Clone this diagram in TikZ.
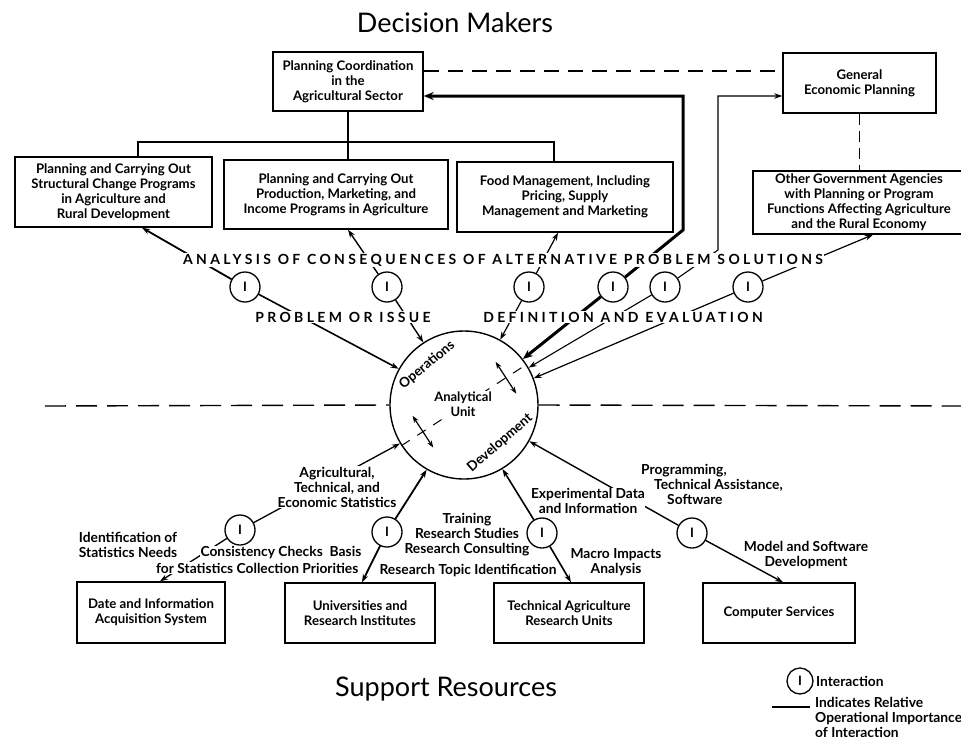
\documentclass[tikz,border=0pt]{standalone}
\usepackage{fontspec}
\setmainfont{Lato}
\newfontfamily\capsfont[LetterSpace=24]{Lato}
\usetikzlibrary{arrows.meta,calc}
\begin{document}
\begin{tikzpicture}[x=1pt,y=-1pt,
  box/.style={draw,line width=1.4pt,inner sep=1pt,align=center,font=\bfseries\fontsize{13.2}{15}\selectfont},
  ic/.style={draw,circle,line width=1.3pt,minimum size=30pt,inner sep=0pt,font=\bfseries\fontsize{13}{13}\selectfont},
  conn/.style={line width=1.4pt,-{Stealth[length=8pt,width=5.5pt]}},
  thickconn/.style={line width=3pt,-{Stealth[length=10pt,width=8pt]}},
  caps/.style={fill=white,inner sep=1pt,font=\capsfont\bfseries\fontsize{14}{14}\selectfont},
  lab/.style={align=center,inner sep=1pt,font=\bfseries\fontsize{13.8}{15}\selectfont},
  big/.style={font=\fontsize{27}{30}\selectfont},
  dashline/.style={line width=1.4pt,dash pattern=on 21pt off 10pt},
  tree/.style={line width=1.2pt},
  dbl/.style={line width=1.2pt,{Stealth[length=7pt,width=5pt]}-{Stealth[length=7pt,width=5pt]}},
]
\useasboundingbox (0,0) rectangle (961,745);

% titles
\node[big] (title) at (455,23) {Decision Makers};
\node[big] (support) at (446,689) {Support Resources};

% decision maker boxes
\node[box,minimum width=150pt,minimum height=59pt] (pca) at (348,81.5) {Planning Coordination\\in the\\Agricultural Sector};
\node[box,minimum width=153pt,minimum height=60pt] (gep) at (859.5,83) {General\\Economic Planning};
\node[box,minimum width=197pt,minimum height=70pt] (boxA) at (113.5,192) {Planning and Carrying Out\\Structural Change Programs\\in Agriculture and\\Rural Development};
\node[box,minimum width=224pt,minimum height=69pt] (boxB) at (336,194.5) {Planning and Carrying Out\\Production, Marketing, and\\Income Programs in Agriculture};
\node[box,minimum width=216pt,minimum height=70pt] (boxC) at (565,197) {Food Management, Including\\Pricing, Supply\\Management and Marketing};
\node[box,minimum width=212pt,minimum height=63pt] (boxD) at (859,202.5) {Other Government Agencies\\with Planning or Program\\Functions Affecting Agriculture\\and the Rural Economy};

% support boxes
\node[box,minimum width=148pt,minimum height=61pt] (data) at (151,612.5) {Date and Information\\Acquisition System};
\node[box,minimum width=150pt,minimum height=60pt] (uni) at (360,613) {Universities and\\Research Institutes};
\node[box,minimum width=150pt,minimum height=60pt] (ta) at (569,613) {Technical Agriculture\\Research Units};
\node[box,minimum width=152pt,minimum height=60pt] (cs) at (779,613) {Computer Services};

% analytical unit
\node[draw,circle,line width=1.4pt,minimum size=148pt,inner sep=0pt] (au) at (464,405) {};

% interaction circles
\node[ic] (c1) at (245,287) {I};
\node[ic] (c2) at (387,287) {I};
\node[ic] (c3) at (529,287) {I};
\node[ic] (c4) at (613,287) {I};
\node[ic] (c5) at (665,287) {I};
\node[ic] (c6) at (748,287) {I};
\node[ic] (c7) at (240,530) {I};
\node[ic] (c8) at (387,532) {I};
\node[ic] (c9) at (542,533) {I};
\node[ic] (c10) at (692,533) {I};

% helper coordinates
\coordinate (tl) at (138,142);
\coordinate (tr) at (554,142);
\coordinate (k1) at (683,230);
\coordinate (k2) at (718,250);
\coordinate (dl) at (45,406);
\coordinate (dr) at (961,406);

% tree
\draw[tree] (pca.south) -- (pca.south |- boxB.north);
\draw[tree] (tl |- boxA.north) -- (tl) -- (tr) -- (tr |- boxC.north);

% dashed links
\draw[line width=1.3pt,dash pattern=on 15pt off 9pt] ([yshift=10.5pt]pca.east) -- ([yshift=12pt]gep.west);
\draw[line width=1.3pt,dash pattern=on 11pt off 6pt] (gep.south) -- (gep.south |- boxD.north);
\draw[dashline] (dl) -- (au.west);
\draw[dashline] (au.east) -- (dr);

% inside analytical unit
\draw[line width=1pt,dash pattern=on 10pt off 9pt] (au.213) -- (au.33);
\draw[dbl] ($(au.center)+(213:49pt)+(123:19pt)$) -- ($(au.center)+(213:49pt)+(303:19pt)$);
\draw[dbl] ($(au.center)+(33:50pt)+(123:19pt)$) -- ($(au.center)+(33:50pt)+(303:19pt)$);
\node[fill=white,inner sep=1pt,align=center,font=\bfseries\fontsize{13}{15}\selectfont] (aut) at (463,404) {Analytical\\Unit};
\node[rotate=40,inner sep=0pt,font=\bfseries\fontsize{13.5}{14}\selectfont] (ops) at (427,365) {Operations};
\node[rotate=41,inner sep=0pt,font=\bfseries\fontsize{13.5}{14}\selectfont] (dev) at (500,443) {Development};

% upper connectors (covered by labels)
\draw[conn,line width=1.8pt] (c1) -- ([xshift=28.5pt]boxA.south);
\draw[conn,line width=1.6pt] (c1) -- (au.151);
\draw[conn] (c2) -- ([xshift=12pt]boxB.south);
\draw[conn] (c2) -- (au.123);
\draw[conn,line width=1.2pt] (c3) -- ([xshift=-7pt]boxC.south);
\draw[conn,line width=1.2pt] (c3) -- (au.61);
\draw[thickconn] (c4) -- (k1) |- ([yshift=-14.5pt]pca.east);
\draw[thickconn] (c4) -- (au.38);
\draw[conn,line width=1.1pt] (c5) -- (k2) |- ([yshift=-13pt]gep.west);
\draw[conn,line width=1.1pt] (c5) -- (au.30);
\draw[conn,line width=1.2pt] (c6) -- ([xshift=14pt]boxD.south);
\draw[conn,line width=1.2pt] (c6) -- (au.21);

% lower connectors covered by labels
\draw[conn,line width=1.3pt] (c7) -- (au.211);
\draw[conn,line width=1.3pt] (c7) -- ([xshift=9pt]data.north);
\draw[conn,line width=1.4pt] (c10) -- (au.331);

% labels
\node[caps] (lanalysis) at (503,260) {ANALYSIS OF CONSEQUENCES OF ALTERNATIVE PROBLEM SOLUTIONS};
\node[caps] (lproblem) at (343,317) {PROBLEM OR ISSUE};
\node[caps] (ldef) at (623,317) {DEFINITION AND EVALUATION};
\node[lab,fill=white] (lstats) at (337,487) {Agricultural,\\Technical, and\\Economic Statistics};
\node[lab] (lident) at (128,545) {Identification of\\Statistics Needs};
\node[lab,fill=white,anchor=east,inner sep=0.5pt] (lcons) at (362,553) {Consistency Checks\enspace Basis};
\node[lab,fill=white,anchor=east,inner sep=0.5pt] (lprio) at (359,568) {for Statistics Collection Priorities};
\node[lab] (ltrain) at (467,535) {Training\\Research Studies\\Research Consulting};
\node[lab] (ltopic) at (468,571) {Research Topic Identification};
\node[lab,fill=white,inner sep=0.5pt] (lexp) at (588,501) {Experimental Data\\and Information};
\node[lab] (lmacro) at (616,562) {Macro Impacts\\Analysis};
\node[lab,align=left,anchor=north west] (lprog) at (640,463) {Programming,\\\hspace*{13pt}Technical Assistance,\\\hspace*{26pt}Software};
\node[lab] (lmodel) at (806,555) {Model and Software\\Development};

% remaining connectors
\draw[conn,line width=1.8pt] (c8) -- (au.240);
\draw[conn,line width=1.8pt] (c8) -- ([xshift=2pt]uni.north);
\draw[conn,line width=1.6pt] (c9) -- (au.301);
\draw[conn,line width=1.6pt] (c9) -- ([xshift=2pt]ta.north);
\draw[conn,line width=1.4pt] (c10) -- ([xshift=4pt]cs.north);

% legend
\node[ic,minimum size=26pt] (legc) at (800,681) {I};
\node[lab,anchor=west] (legt) at (815,681) {Interaction};
\coordinate (lg1) at (772,707);
\coordinate (lg2) at (810,707);
\draw[line width=1.4pt] (lg1) -- (lg2);
\node[lab,align=left,anchor=north west] (legd) at (814,696) {Indicates Relative\\Operational Importance\\of Interaction};
\end{tikzpicture}
\end{document}
